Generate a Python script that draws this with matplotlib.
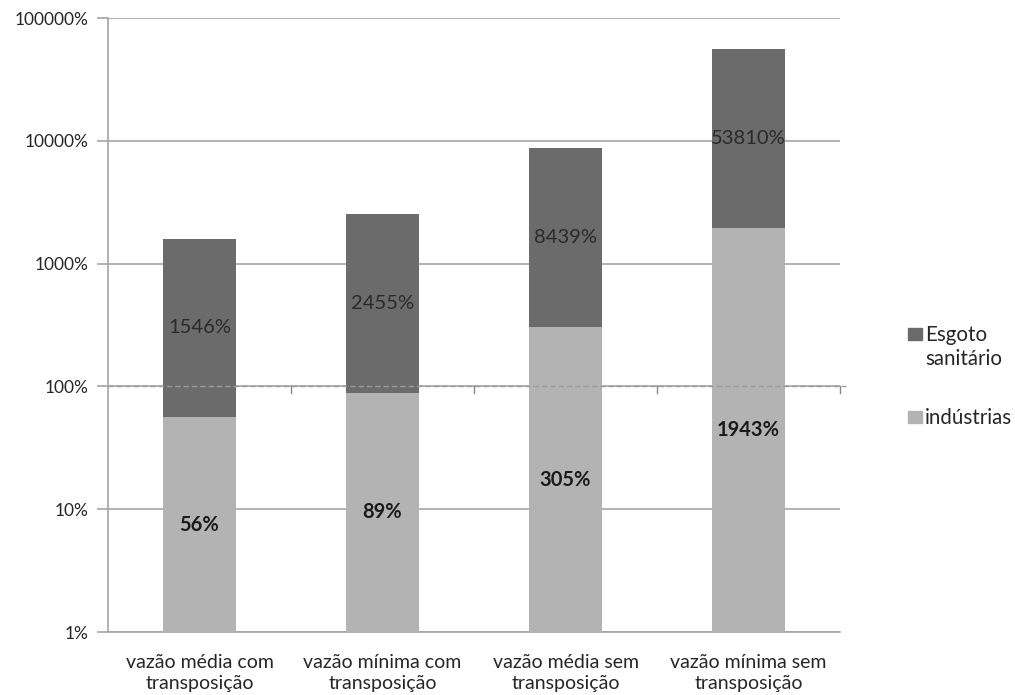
import numpy as np
import matplotlib
matplotlib.use("Agg")
import matplotlib.pyplot as plt
from matplotlib.patches import Rectangle
from matplotlib.ticker import FixedLocator, FixedFormatter

plt.rcParams['font.family'] = ['Lato', 'DejaVu Sans']

categories = ["vazão média com\ntransposição", "vazão mínima com\ntransposição",
              "vazão média sem\ntransposição", "vazão mínima sem\ntransposição"]
industrias = [56, 89, 305, 1943]
esgoto = [1546, 2455, 8439, 53810]
series_names = ["Esgoto\nsanitário", "indústrias"]
ytick_vals = [1, 10, 100, 1000, 10000, 100000]
ytick_labels = ["1%", "10%", "100%", "1000%", "10000%", "100000%"]

DARK = "#6b6b6b"
LIGHT = "#b3b3b3"
GRID = "#a6a6a6"
TEXT = "#262626"

fig = plt.figure(figsize=(10.15, 6.95), dpi=100)
ax = fig.add_axes([0.1064, 0.0906, 0.7212, 0.8834])

x = np.arange(len(categories))
w = 0.4
base = 1
ax.bar(x, np.array(industrias) - base, w, bottom=base, color=LIGHT, zorder=3)
ax.bar(x, esgoto, w, bottom=industrias, color=DARK, zorder=3)

ax.set_yscale("log")
ax.set_ylim(1, 100000)
ax.set_xlim(-0.5, len(categories) - 0.5)
ax.yaxis.set_major_locator(FixedLocator(ytick_vals))
ax.yaxis.set_major_formatter(FixedFormatter(ytick_labels))
ax.yaxis.set_minor_locator(FixedLocator([]))
ax.grid(axis="y", color=GRID, lw=1.2, zorder=0)
ax.tick_params(axis="y", length=8, color=GRID, width=1.2, labelsize=12.5, pad=6,
               labelcolor=TEXT)
ax.tick_params(axis="x", length=0, labelsize=14, pad=16, labelcolor=TEXT)
ax.set_xticks(x)
ax.set_xticklabels(categories, linespacing=1.25)
for s in ["top", "right"]:
    ax.spines[s].set_visible(False)
for s in ["left", "bottom"]:
    ax.spines[s].set_color(GRID)
    ax.spines[s].set_linewidth(1.2)

# dashed 100% reference line with its small category ticks
ax.plot([-0.5, len(categories) - 0.47], [100, 100], ls=(0, (4, 2)), color="#9a9a9a",
        lw=1.0, zorder=4, clip_on=False)
for b in np.arange(len(categories)) + 0.5:
    ax.plot([b, b], [100, 88], color="#888888", lw=1.0, zorder=4, clip_on=False)

# value labels centred on each segment (log space)
for i in range(len(categories)):
    ax.text(x[i], np.sqrt(base * industrias[i]), f"{industrias[i]}%", ha="center",
            va="center", fontsize=14.5, fontweight="bold", color="#1a1a1a", zorder=5)
    top = industrias[i] + esgoto[i]
    ax.text(x[i], np.sqrt(industrias[i] * top), f"{esgoto[i]}%", ha="center",
            va="center", fontsize=14.5, color="#2a2a2a", zorder=5)

# legend drawn by hand: square swatch beside the first line of each label
for color, name, ybot in [(DARK, series_names[0], 0.5108), (LIGHT, series_names[1], 0.3914)]:
    fig.add_artist(Rectangle((0.8946, ybot), 0.0138, 0.0173, color=color,
                             transform=fig.transFigure))
    for k, line in enumerate(name.split("\n")):
        fig.text(0.9113, ybot - 0.0014 - k * 0.0346, line, ha="left",
                 va="baseline", fontsize=14.8, color=TEXT)

fig.savefig("out.png", dpi=100)
